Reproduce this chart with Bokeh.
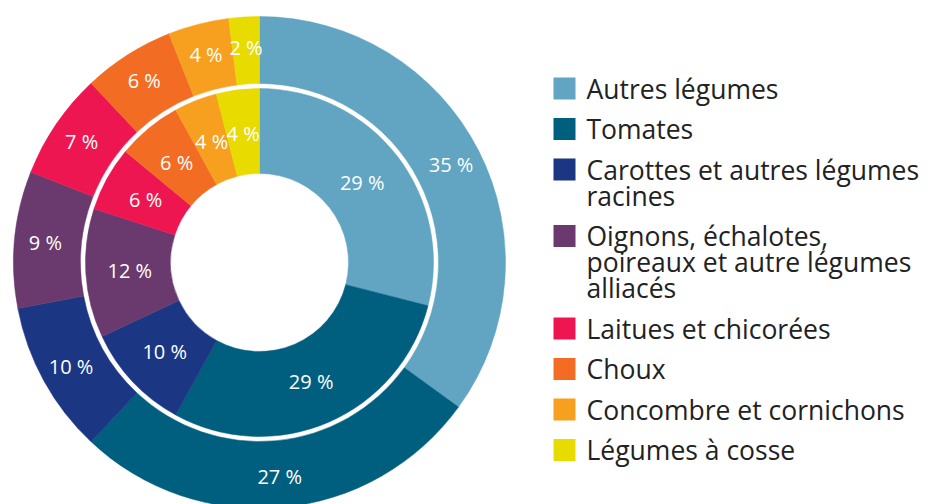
import numpy as np
from bokeh.plotting import figure
from bokeh.models import Range1d, ColumnDataSource
from bokeh.core.properties import value
from bokeh.embed import file_html
from bokeh.resources import INLINE

categories = [
    "Autres légumes",
    "Tomates",
    "Carottes et autres légumes\nracines",
    "Oignons, échalotes,\npoireaux et autre légumes\nalliacés",
    "Laitues et chicorées",
    "Choux",
    "Concombre et cornichons",
    "Légumes à cosse",
]
outer_values = [35, 27, 10, 9, 7, 6, 4, 2]
inner_values = [29, 29, 10, 12, 6, 6, 4, 4]
colors = ["#61a5c2", "#005f7f", "#1b3784", "#6a3a6f",
          "#ee1651", "#f26d23", "#f7a01f", "#e8db00"]

W, H = 933, 504
FONT = "Open Sans"
p = figure(width=W, height=H, output_backend="svg", toolbar_location=None,
           x_range=Range1d(0, W), y_range=Range1d(-H, 0),
           x_axis_type=None, y_axis_type=None, min_border=0,
           outline_line_color=None)
p.grid.visible = False

cx, cy = 259, -262


def ring(vals, r_in, r_out, r_lab):
    v = np.array(vals, dtype=float)
    tot = v.sum()
    cum = np.concatenate([[0], np.cumsum(v)])
    start = np.pi / 2 - 2 * np.pi * cum[:-1] / tot
    end = np.pi / 2 - 2 * np.pi * cum[1:] / tot
    mid = (start + end) / 2
    src = ColumnDataSource(dict(start=start, end=end, color=colors,
                                lx=cx + r_lab * np.cos(mid),
                                ly=cy + r_lab * np.sin(mid),
                                lab=[f"{int(x)} %" for x in vals]))
    p.annular_wedge(x=cx, y=cy, inner_radius=r_in, outer_radius=r_out,
                    start_angle="start", end_angle="end", direction="clock",
                    fill_color="color", line_color="color", line_width=0.5,
                    source=src)
    p.text(x="lx", y="ly", text="lab", source=src, text_color="white",
           text_font=value(FONT), text_font_size="20px",
           text_align="center", text_baseline="middle")


ring(outer_values, 179, 246, 215)
ring(inner_values, 89, 174, 130)

# legend
y = -88
lx_sq, lx_txt = 564, 586
for cat, col in zip(categories, colors):
    lines = cat.split("\n")
    p.rect(x=lx_sq, y=y, width=22, height=22, fill_color=col, line_color=None)
    for i, ln in enumerate(lines):
        p.text(x=lx_txt, y=y - 26 * i, text=[ln], text_color="#222222",
               text_font=value(FONT), text_font_size="26.5px",
               text_align="left", text_baseline="middle")
    y -= 40.5 + 26 * (len(lines) - 1)

open("out.html", "w").write(file_html(p, INLINE))
